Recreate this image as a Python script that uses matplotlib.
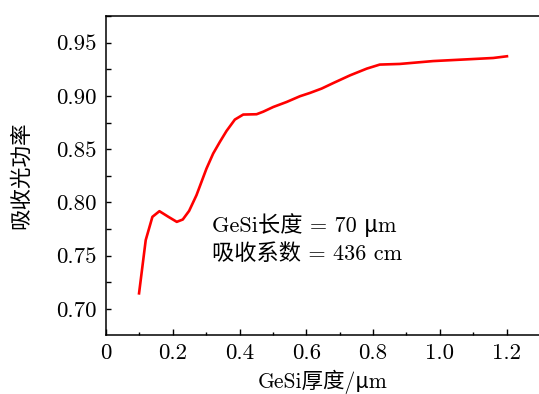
import matplotlib
matplotlib.use("Agg")
import matplotlib.pyplot as plt
from matplotlib.ticker import MultipleLocator, FixedLocator, FixedFormatter

plt.rcParams['font.family'] = ['cmr10', 'Noto Sans CJK SC', 'DejaVu Serif']
plt.rcParams['axes.unicode_minus'] = False
plt.rcParams['mathtext.fontset'] = 'cm'

thickness = [0.099, 0.119, 0.139, 0.160, 0.187, 0.212, 0.230, 0.249, 0.271, 0.301,
             0.321, 0.341, 0.361, 0.386, 0.411, 0.451, 0.471, 0.501, 0.541,
             0.581, 0.611, 0.646, 0.681, 0.731, 0.781, 0.820, 0.880, 0.980, 1.080,
             1.160, 1.201]
absorbed = [0.7147, 0.7647, 0.7865, 0.7918, 0.7865, 0.7818, 0.7840, 0.7921, 0.8068, 0.8318,
            0.8459, 0.8568, 0.8671, 0.8778, 0.8825, 0.8828, 0.8852, 0.8896, 0.8943,
            0.8997, 0.9028, 0.9069, 0.9121, 0.9193, 0.9256, 0.9294, 0.9300, 0.9327, 0.9343,
            0.9356, 0.9372]

xticks = [0, 0.2, 0.4, 0.6, 0.8, 1.0, 1.2]
xticklabels = ['0', '0.2', '0.4', '0.6', '0.8', '1.0', '1.2']
yticks = [0.70, 0.75, 0.80, 0.85, 0.90, 0.95]
yticklabels = ['0.70', '0.75', '0.80', '0.85', '0.90', '0.95']

fig = plt.figure(figsize=(5.39, 3.94), dpi=100)
ax = fig.add_axes([106/539, 1-335/394, 434/539, (335-16)/394])
ax.plot(thickness, absorbed, color='#ff0000', lw=1.9)
ax.set_xlim(0, 1.3)
ax.set_ylim(0.6756, 0.975)

ax.xaxis.set_major_locator(FixedLocator(xticks))
ax.xaxis.set_major_formatter(FixedFormatter(xticklabels))
ax.xaxis.set_minor_locator(MultipleLocator(0.1))
ax.yaxis.set_major_locator(FixedLocator(yticks))
ax.yaxis.set_major_formatter(FixedFormatter(yticklabels))
ax.yaxis.set_minor_locator(MultipleLocator(0.025))

ax.tick_params(which='both', direction='in', top=False, right=False, labelsize=16.5, width=1)
ax.tick_params(axis='x', which='major', length=4, pad=6)
ax.tick_params(axis='x', which='minor', length=2.5)
ax.tick_params(axis='y', which='major', length=3.5, pad=7)
ax.tick_params(axis='y', which='minor', length=3.5)
for s in ax.spines.values():
    s.set_linewidth(1.1)
ax.spines['right'].set_visible(False)

ax.set_xlabel('GeSi厚度/μm', fontsize=15.5, labelpad=5)
ax.set_ylabel('吸收光功率', fontsize=15.5, labelpad=18)

ax.text(0.317, 0.7787, 'GeSi长度 = 70 μm', fontsize=16, va='center', ha='left')
ax.text(0.317, 0.7520, '吸收系数 = 436 cm', fontsize=16, va='center', ha='left')

fig.savefig('out.png', dpi=100)
